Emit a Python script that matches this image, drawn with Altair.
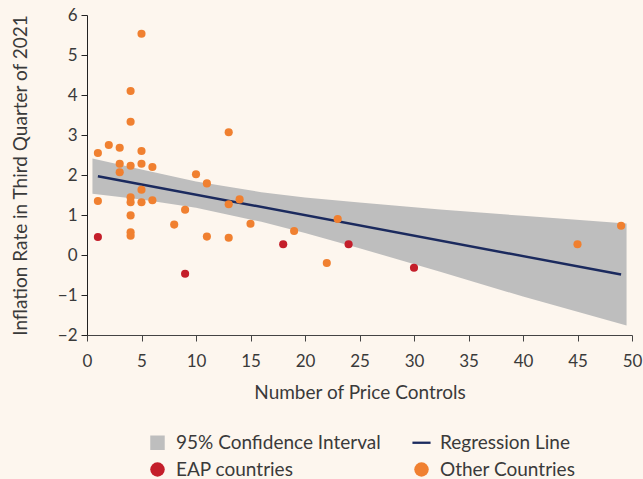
import altair as alt
import pandas as pd

# Other countries (orange)
other_x = [1, 1, 2, 3, 3, 3, 4, 4, 4, 4, 4, 4, 4, 4, 5, 5, 5, 5, 5, 6, 6,
           8, 9, 10, 11, 11, 13, 13, 13, 14, 15, 19, 22, 23, 45, 49]
other_y = [2.55, 1.35, 2.75, 2.68, 2.28, 2.07, 4.10, 3.33, 2.23, 1.44, 1.32, 0.99, 0.57, 0.48,
           5.53, 2.60, 2.28, 1.63, 1.32, 2.20, 1.37,
           0.76, 1.13, 2.02, 1.79, 0.46, 3.07, 1.27, 0.43, 1.39, 0.78, 0.60, -0.20, 0.90, 0.27, 0.73]
# EAP countries (red)
eap_x = [1, 9, 18, 24, 30]
eap_y = [0.45, -0.47, 0.27, 0.27, -0.32]

# Regression line
reg_x = [1, 49]
reg_y = [1.97, -0.49]

# 95% confidence interval band
ci_x = [0.5, 5, 10, 16, 20, 25, 32.4, 40, 49.5]
ci_upper = [2.41, 2.14, 1.84, 1.57, 1.44, 1.31, 1.14, 0.98, 0.79]
ci_lower = [1.53, 1.39, 1.18, 0.83, 0.55, 0.17, -0.42, -1.04, -1.76]

x_ticks = list(range(0, 51, 5))
y_ticks = list(range(-2, 7))

S_CI = "95% Confidence Interval"
S_REG = "Regression Line"
S_EAP = "EAP countries"
S_OTH = "Other Countries"
domain = [S_CI, S_REG, S_EAP, S_OTH]
colors = ["#BEBEBE", "#1B2A5E", "#C41E2A", "#F08030"]
shapes = ["square", "M-1.25,-0.16H1.25V0.16H-1.25Z", "circle", "circle"]

pts = pd.DataFrame({
    "x": other_x + eap_x,
    "y": other_y + eap_y,
    "series": [S_OTH] * len(other_x) + [S_EAP] * len(eap_x),
})
band = pd.DataFrame({"x": ci_x, "lo": ci_lower, "hi": ci_upper, "series": S_CI})
reg = pd.DataFrame({"x": reg_x, "y": reg_y, "series": S_REG})

FONT = "Lato"
TXT = "#3a3a3a"

xscale = alt.Scale(domain=[0, 50], nice=False)
yscale = alt.Scale(domain=[-2, 6], nice=False)
cscale = alt.Scale(domain=domain, range=colors)
sscale = alt.Scale(domain=domain, range=shapes)

xaxis = alt.Axis(title="Number of Price Controls", values=x_ticks,
                 grid=False, domainColor="#444", tickColor="#444", tickSize=6,
                 labelPadding=12, titlePadding=14, labelFontSize=17, titleFontSize=19,
                 labelColor=TXT, titleColor=TXT, labelFont=FONT, titleFont=FONT,
                 titleFontWeight="normal", labelFlush=False, labelOverlap=False)
yaxis = alt.Axis(title="Inflation Rate in Third Quarter of 2021", values=y_ticks,
                 grid=False, domainColor="#222", tickColor="#222", tickSize=6,
                 labelPadding=4, titlePadding=27, labelFontSize=17, titleFontSize=19,
                 labelColor=TXT, titleColor=TXT, labelFont=FONT, titleFont=FONT,
                 titleFontWeight="normal", labelFlush=False, labelOverlap=False)

area = alt.Chart(band).mark_area(opacity=1).encode(
    x=alt.X("x:Q", scale=xscale, axis=xaxis),
    y=alt.Y("lo:Q", scale=yscale, axis=yaxis),
    y2="hi:Q",
    color=alt.Color("series:N", scale=cscale),
)

line = alt.Chart(reg).mark_line(strokeWidth=2.5).encode(
    x=alt.X("x:Q", scale=xscale, axis=xaxis),
    y=alt.Y("y:Q", scale=yscale, axis=yaxis),
    color=alt.Color("series:N", scale=cscale),
)

legend = alt.Legend(title=None, orient="none", legendX=61, legendY=418, columns=2,
                    direction="horizontal", columnPadding=31, rowPadding=7,
                    symbolSize=210, symbolStrokeWidth=0, labelFontSize=19, labelFont=FONT,
                    labelColor=TXT, labelOffset=9, labelLimit=400)

points = alt.Chart(pts).mark_point(filled=True, size=66, opacity=1).encode(
    x=alt.X("x:Q", scale=xscale, axis=xaxis),
    y=alt.Y("y:Q", scale=yscale, axis=yaxis),
    color=alt.Color("series:N", scale=cscale, legend=legend),
    shape=alt.Shape("series:N", scale=sscale, legend=legend),
)

chart = alt.layer(area, line, points).properties(
    width=545, height=320,
    background="#FDF6EE",
    autosize=alt.AutoSizeParams(type="none"),
    padding={"left": 87, "top": 15, "right": 11, "bottom": 144},
).configure_view(stroke=None)

chart.save("out.html", embed_options={"renderer": "svg", "actions": False})
